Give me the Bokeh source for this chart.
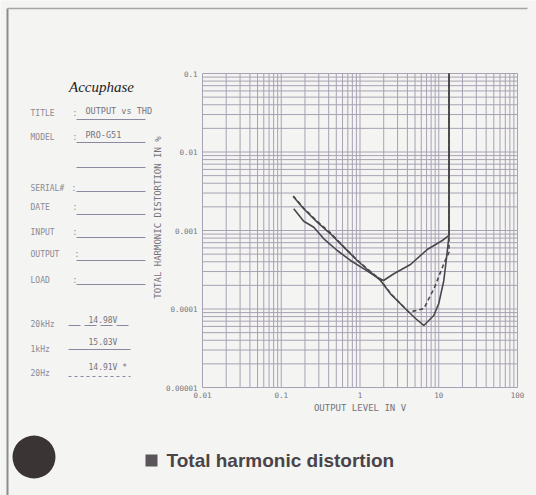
import numpy as np
from bokeh.plotting import figure
from bokeh.models import Label, Arrow, BoxAnnotation, Range1d
from bokeh.core.properties import value
from bokeh.embed import file_html
from bokeh.resources import INLINE

# ---------------- data ----------------
# output level (V) vs THD (%)
v_20k = [0.144, 0.193, 0.259, 0.347, 0.514, 0.757, 1.12, 1.65, 1.99, 2.69, 4.38, 7.14, 11.1, 13.5, 13.5]
thd_20k = [0.00189, 0.00131, 0.00110, 0.000784, 0.000556, 0.000415, 0.000325, 0.000254, 0.000231,
           0.000281, 0.000369, 0.000573, 0.000746, 0.000864, 0.1]

v_1k = [0.142, 0.193, 0.286, 0.422, 0.623, 0.921, 1.36, 1.82, 2.44, 3.98, 5.07, 6.46, 8.65, 10.0,
        11.6, 12.8, 13.5, 13.5]
thd_1k = [0.00271, 0.00189, 0.00128, 0.000908, 0.000613, 0.000415, 0.000294, 0.000231, 0.000156,
          0.0000957, 0.0000757, 0.0000617, 0.0000826, 0.000117, 0.000231, 0.000529, 0.000864, 0.1]

v_20 = [0.142, 0.193, 0.286, 0.422, 0.623, 0.921, 1.36, 1.82, 2.44, 4.17, 6.46, 8.83, 11.6, 13.5, 13.5, 13.5]
thd_20 = [0.00275, 0.00192, 0.00131, 0.00093, 0.00062, 0.00042, 0.0003, 0.000235, 0.000158,
          0.0000910, 0.000101, 0.000188, 0.000377, 0.000529, 0.000864, 0.1]

legend_names = ["20kHz", "1kHz", "20Hz"]
legend_levels = ["14.98V", "15.03V", "14.91V *"]
legend_dashes = ["12 4", "solid", "3 3"]

x_ticks = [0.01, 0.1, 1, 10, 100]
x_tick_labels = ["0.01", "0.1", "1", "10", "100"]
y_ticks = [0.00001, 0.0001, 0.001, 0.01, 0.1]
y_tick_labels = ["0.00001", "0.0001", "0.001", "0.01", "0.1"]
x_title = "OUTPUT LEVEL IN V"
y_title = "TOTAL HARMONIC DISTORTION IN %"

form_labels = ["TITLE", "MODEL", "", "SERIAL#", "DATE", "INPUT", "OUTPUT", "LOAD"]
form_values = ["OUTPUT vs THD", "PRO-G51", "", "", "", "", "", ""]

title_text = "Total harmonic distortion"
brand = "Accuphase"

# ---------------- layout constants ----------------
W, H = 536, 495
FL, FR, FT, FB = 202, 517, 73, 387          # chart box on the page (px)
BG = "#f4f4f2"
GRID = "#a8a2b4"
INK = "#4a474c"
TXT = "#74737c"
LBL = "#8b8a92"
RULE = "#8d88a2"
MONO = "DejaVu Sans Mono"

# log ranges extended so that the chart box lands where it sits on the page
xs = 4.0 / (FR - FL)
ys = 4.0 / (FB - FT)
x_lo = 10 ** (np.log10(x_ticks[0]) - FL * xs)
x_hi = 10 ** (np.log10(x_ticks[-1]) + (W - FR) * xs)
y_hi = 10 ** (np.log10(y_ticks[-1]) + FT * ys)
y_lo = 10 ** (np.log10(y_ticks[0]) - (H - FB) * ys)

p = figure(width=W, height=H, x_axis_type="log", y_axis_type="log",
           x_range=Range1d(x_lo, x_hi), y_range=Range1d(y_lo, y_hi),
           min_border=0, output_backend="svg", toolbar_location=None)
p.background_fill_color = BG
p.border_fill_color = BG
p.outline_line_color = None
p.xaxis.visible = False
p.yaxis.visible = False
p.grid.visible = False

# grid (decades plus 2..9 subdivisions)
gx = [m * 10.0 ** e for e in range(-2, 2) for m in range(1, 10)] + [x_ticks[-1]]
gy = [m * 10.0 ** e for e in range(-5, -1) for m in range(1, 10)] + [y_ticks[-1]]
p.segment(x0=gx, y0=[y_ticks[0]] * len(gx), x1=gx, y1=[y_ticks[-1]] * len(gx),
          line_color=GRID, line_width=1)
p.segment(x0=[x_ticks[0]] * len(gy), y0=gy, x1=[x_ticks[-1]] * len(gy), y1=gy,
          line_color=GRID, line_width=1)

# tick labels
p.text(x=x_ticks, y=[y_ticks[0]] * len(x_ticks), text=x_tick_labels, y_offset=4,
       text_align="center", text_baseline="top", text_font=value(MONO),
       text_font_size="7.5px", text_color=TXT)
p.text(x=[x_ticks[0]] * len(y_ticks), y=y_ticks, text=y_tick_labels, x_offset=-5,
       text_align="right", text_baseline="middle", text_font=value(MONO),
       text_font_size="7.5px", text_color=TXT)

# curves
p.line(v_1k, thd_1k, line_color=INK, line_width=1.6)
p.line(v_20k, thd_20k, line_color=INK, line_width=1.6)
p.line(v_20, thd_20, line_color=INK, line_width=1.6, line_dash="4 3")


# ---------------- decorations (screen units, frame == whole page) ----------------
def sx(cx):
    return cx


def sy(cy):
    return H - cy


def text(cx, cy, s, size, color, font=MONO, align="left", style="normal", angle=0.0):
    p.add_layout(Label(x=sx(cx), y=sy(cy), x_units="screen", y_units="screen", text=s,
                       text_font=font, text_font_size=f"{size}px", text_color=color,
                       text_align=align, text_baseline="middle", text_font_style=style,
                       angle=angle))


def seg(cx0, cy0, cx1, cy1, color, width, dash="solid"):
    p.add_layout(Arrow(end=None, start=None, x_start=sx(cx0), y_start=sy(cy0), x_end=sx(cx1),
                       y_end=sy(cy1), start_units="screen", end_units="screen", line_color=color,
                       line_width=width, line_dash=dash))


# axis titles
text((FL + FR) / 2, 407, x_title, 9, TXT, align="center")
text(157, 217, y_title, 9, TXT, align="center", angle=np.pi / 2)

# page border
seg(7, 8, 7, H, "#8e8b8e", 2)
seg(7, 8, 527, 8, "#a8a3a4", 1.5)

# brand
text(101, 86, brand, 15, "#262223", font="Liberation Serif", align="center", style="italic")

# form
row_y = [113, 137, 162, 188, 207, 232, 254, 280]
rule_y = [119, 142, 167, 191, 214, 237, 260, 284]
colon_x = {"SERIAL#": 71, "OUTPUT": 74}
for lab, val, ry, uy in zip(form_labels, form_values, row_y, rule_y):
    if lab:
        text(30, ry, lab, 8, LBL)
        text(colon_x.get(lab, 72), ry, ":", 8, LBL)
    if val:
        text(85, ry - 3, val, 8.5, TXT)
    seg(76, uy, 145, uy, RULE, 1)

# clip level legend
leg_y = [324, 349, 373]
leg_line_y = [325, 349, 376]
leg_val_y = [320, 342, 367]
for name, lvl, dash, ly, lly, vy in zip(legend_names, legend_levels, legend_dashes, leg_y, leg_line_y, leg_val_y):
    text(30, ly, name, 8, LBL)
    text(88, vy, lvl, 8, TXT)
    seg(68, lly, 130, lly, RULE, 1, dash)

# bottom heading
p.add_layout(BoxAnnotation(left=sx(12), right=sx(55), top=sy(435), bottom=sy(478),
                           left_units="screen", right_units="screen", top_units="screen",
                           bottom_units="screen", fill_color="#3a3435", fill_alpha=1,
                           line_color=None, border_radius=22, level="overlay"))
p.add_layout(BoxAnnotation(left=sx(145), right=sx(157), top=sy(454), bottom=sy(466),
                           left_units="screen", right_units="screen", top_units="screen",
                           bottom_units="screen", fill_color="#5a5558", fill_alpha=1,
                           line_color=None, level="overlay"))
text(166, 460, title_text, 19, "#4a4448", font="Liberation Sans", style="bold")

open("out.html", "w").write(file_html(p, INLINE))
